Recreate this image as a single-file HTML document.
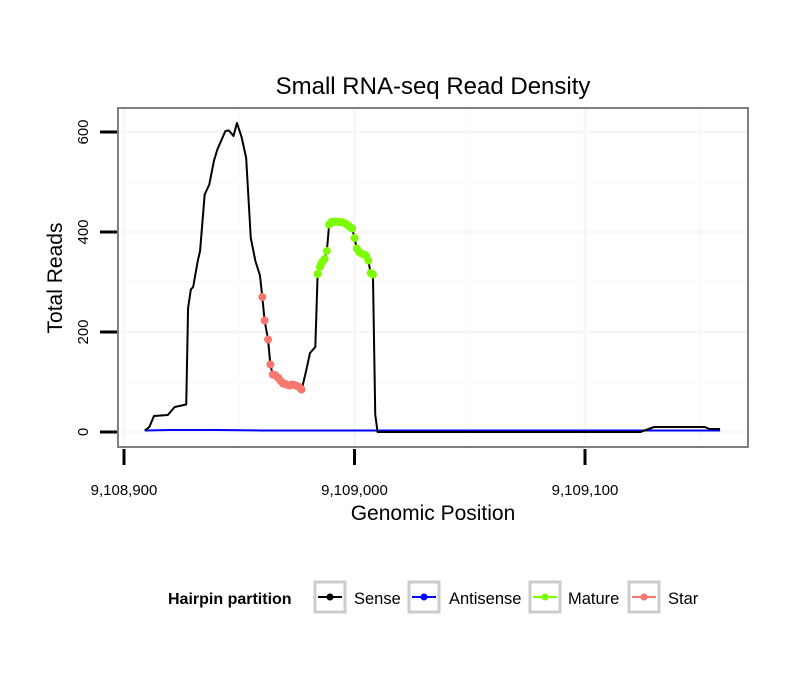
<!DOCTYPE html>
<html><head><meta charset="utf-8"><style>
body{margin:0;background:#fff;font-family:"Liberation Sans",sans-serif}
</style></head><body>
<svg id="c" width="810" height="690" xmlns="http://www.w3.org/2000/svg"></svg>
<script>
const senseX=[9,11,13,19,22,27,27.8,29,30,32,33,35,37,39,40.5,44,45.5,47.5,49,51,53,55,57,59,60,61,62.5,63.5,64.5,67,69,72,75,77,79,80.7,83,84,85.5,87,88,89,91,93,96,99,100,101,103,105,106,107,108,109,110,150,200,224,230,252,254,258.6];
const senseY=[3,10,32,34,50,55,248,285,290,342,362,475,495,542,565,602,603,592,618,590,548,388,342,313,270,223,185,135,115,108,95,93,92,83,122,158,170,315,336,346,362,415,420,420,417,407,388,367,357,353,343,318,315,35,0,0,0,0,10,10,6,6];
const antiX=[9,20,40,60,100,150,200,258.6];
const antiY=[3,4,4,3,3,3,3,3];
const starX=[60,61,62.5,63.5,64.5,65.5,66.5,67,68,69,70,71,72,73,74,75,76,77];
const starY=[270,223,185,135,115,114,110,108,102,97,96,94,93,95,94,92,90,85];
const matureX=[84,85,85.5,86,87,88,89,90,91,92,93,94,95,96,97,98,99,100,101,102,103,104,105,106,107,108];
const matureY=[316,330,336,340,346,362,415,420,420,421,420,420,419,417,414,410,407,388,367,360,357,355,353,343,318,315];
const xTicks=[0,100,200], xTickLabels=["9,108,900","9,109,000","9,109,100"];
const yTicks=[0,200,400,600];
const X=v=>124+v*2.305, Y=v=>432-v*0.5;
const svg=document.getElementById('c');
function el(t,a,p){const e=document.createElementNS('http://www.w3.org/2000/svg',t);for(const k in a)e.setAttribute(k,a[k]);(p||svg).appendChild(e);return e;}
let r=el('rect',{x:118,y:108,width:630,height:339,fill:'#fff'});


[100,300,500].forEach(v=>el('line',{x1:118,x2:748,y1:Y(v),y2:Y(v),stroke:'#fbfbfb','stroke-width':2}));
[50,150,250].forEach(v=>el('line',{y1:108,y2:447,x1:X(v),x2:X(v),stroke:'#fbfbfb','stroke-width':2}));
yTicks.forEach(v=>el('line',{x1:118,x2:748,y1:Y(v),y2:Y(v),stroke:'#f7f7f7','stroke-width':3}));
xTicks.forEach(v=>el('line',{y1:108,y2:447,x1:X(v),x2:X(v),stroke:'#f7f7f7','stroke-width':3}));
function line(xs,ys,c,n){const p=el('polyline',{points:xs.map((x,i)=>X(x)+','+Y(ys[i])).join(' '),fill:'none',stroke:c,'stroke-width':2,'stroke-linejoin':'round'});

}
line(antiX,antiY,'#0000ff','antisense-line');
line(senseX,senseY,'#000','sense-line');
starX.forEach((x,i)=>{const c=el('circle',{cx:X(x),cy:Y(starY[i]),r:4,fill:'#f8766d'});

});
matureX.forEach((x,i)=>{const c=el('circle',{cx:X(x),cy:Y(matureY[i]),r:4,fill:'#7cfc00'});

});
el('rect',{x:118,y:108,width:630,height:339,fill:'none',stroke:'#808080','stroke-width':2});
yTicks.forEach(v=>{el('line',{x1:100,x2:117,y1:Y(v),y2:Y(v),stroke:'#000','stroke-width':3});
const t=el('text',{x:0,y:0,transform:`translate(88,${Y(v)}) rotate(-90)`,'text-anchor':'middle','font-size':15});t.textContent=v;

});
xTicks.forEach((v,i)=>{el('line',{y1:449,y2:465,x1:X(v),x2:X(v),stroke:'#000','stroke-width':3});
const t=el('text',{x:X(v),y:495,'text-anchor':'middle','font-size':15});t.textContent=xTickLabels[i];

});
</script>
<svg width="810" height="690" style="position:absolute;left:0;top:0">
<text x="433" y="94" text-anchor="middle" font-size="24" font-family="Liberation Sans">Small RNA-seq Read Density</text>
<text x="433" y="520" text-anchor="middle" font-size="21" font-family="Liberation Sans">Genomic Position</text>
<text transform="translate(62,278) rotate(-90)" text-anchor="middle" font-size="21" font-family="Liberation Sans">Total Reads</text>
<g font-family="Liberation Sans" font-size="16.5">
<text x="168" y="604" font-weight="bold" font-size="16">Hairpin partition</text>
<g><rect x="315" y="582" width="30" height="30" fill="#fff" stroke="#ccc" stroke-width="3"/><line x1="318" x2="342" y1="597" y2="597" stroke="#000" stroke-width="2"/><circle cx="330" cy="597" r="3.5" fill="#000"/><text x="354" y="604">Sense</text></g>
<g><rect x="409" y="582" width="30" height="30" fill="#fff" stroke="#ccc" stroke-width="3"/><line x1="412" x2="436" y1="597" y2="597" stroke="#00f" stroke-width="2"/><circle cx="424" cy="597" r="3.5" fill="#00f"/><text x="449" y="604">Antisense</text></g>
<g><rect x="530" y="582" width="30" height="30" fill="#fff" stroke="#ccc" stroke-width="3"/><line x1="533" x2="557" y1="597" y2="597" stroke="#7cfc00" stroke-width="2"/><circle cx="545" cy="597" r="3.5" fill="#7cfc00"/><text x="568" y="604">Mature</text></g>
<g><rect x="629" y="582" width="30" height="30" fill="#fff" stroke="#ccc" stroke-width="3"/><line x1="632" x2="656" y1="597" y2="597" stroke="#f8766d" stroke-width="2"/><circle cx="644" cy="597" r="3.5" fill="#f8766d"/><text x="668" y="604">Star</text></g>
</g>
</svg>
</body></html>
